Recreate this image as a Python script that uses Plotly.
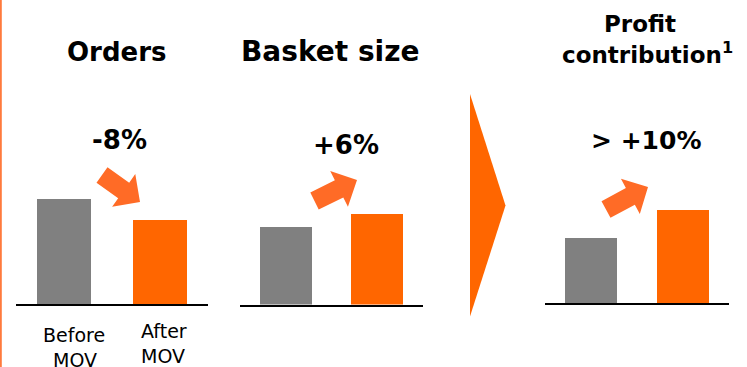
import math
import plotly.graph_objects as go
from plotly.subplots import make_subplots

# ---------------- data ----------------
categories = ["Before MOV", "After MOV"]
orders = [105, 84]
basket_size = [78, 91]
profit_contribution = [65, 93]
changes = ["-8%", "+6%", "> +10%"]
panel_titles = ["Orders", "Basket size", "Profit", "contribution<sup>1</sup>"]

W, H = 747, 367
GRAY = "#808080"
ORANGE = "#FF6600"
ARROW = "#FF6B26"
FONT = "DejaVu Sans"


def px(x):
    return x / W


def py(y):
    return 1 - y / H


fig = make_subplots(rows=1, cols=3)

panels = [
    (orders, (16, 208), 304.0),
    (basket_size, (240, 423), 304.5),
    (profit_contribution, (545, 729), 303.0),
]
YMAX = 120
for i, (vals, (x0, x1), base) in enumerate(panels, start=1):
    fig.add_trace(
        go.Bar(
            x=categories,
            y=vals,
            width=0.565,
            marker=dict(color=[GRAY, ORANGE], line=dict(width=0)),
            hoverinfo="skip",
            showlegend=False,
        ),
        row=1,
        col=i,
    )
    xa = "xaxis" if i == 1 else f"xaxis{i}"
    ya = "yaxis" if i == 1 else f"yaxis{i}"
    fig.layout[xa].update(
        domain=[px(x0), px(x1)],
        range=[-0.5, 1.5],
        showline=True,
        linecolor="black",
        linewidth=2,
        showticklabels=False,
        ticks="",
        showgrid=False,
        zeroline=False,
        fixedrange=True,
    )
    fig.layout[ya].update(
        domain=[py(base), py(base - YMAX)],
        range=[0, YMAX],
        visible=False,
        showgrid=False,
        zeroline=False,
        fixedrange=True,
    )

shapes = []

# left orange rule
shapes.append(dict(type="line", xref="paper", yref="paper", x0=px(0.8), x1=px(0.8),
                   y0=0, y1=1, line=dict(color="#FF7A3D", width=2)))

# chevron
chev = [(470, 94), (505.5, 205.5), (470, 316.5)]
path = "M " + " L ".join(f"{px(x)},{py(y)}" for x, y in chev) + " Z"
shapes.append(dict(type="path", xref="paper", yref="paper", path=path,
                   fillcolor=ORANGE, line=dict(width=0)))


def arrow(tail, tip, sw=19, hw=40, hl=20):
    tx, ty = tail
    hx, hy = tip
    dx, dy = hx - tx, hy - ty
    L = math.hypot(dx, dy)
    ux, uy = dx / L, dy / L
    nx, ny = -uy, ux
    bx, by = hx - ux * hl, hy - uy * hl
    pts = [
        (tx + nx * sw / 2, ty + ny * sw / 2),
        (bx + nx * sw / 2, by + ny * sw / 2),
        (bx + nx * hw / 2, by + ny * hw / 2),
        (hx, hy),
        (bx - nx * hw / 2, by - ny * hw / 2),
        (bx - nx * sw / 2, by - ny * sw / 2),
        (tx - nx * sw / 2, ty - ny * sw / 2),
    ]
    return "M " + " L ".join(f"{px(x)},{py(y)}" for x, y in pts) + " Z"


for tail, tip in [((102, 175), (140, 202)), ((314.5, 201), (357, 180)), ((606, 209.5), (648, 187))]:
    shapes.append(dict(type="path", xref="paper", yref="paper", path=arrow(tail, tip),
                       fillcolor=ARROW, line=dict(width=0)))

fig.update_layout(shapes=shapes)

annotations = []


def txt(text, x, y, size, bold=False):
    annotations.append(dict(
        text=f"<b>{text}</b>" if bold else text,
        x=px(x), y=py(y), xref="paper", yref="paper",
        xanchor="center", yanchor="middle", showarrow=False,
        font=dict(family=FONT, size=size, color="black"),
    ))


# titles
txt(panel_titles[0], 116.5, 52, 26, True)
txt(panel_titles[1], 330, 52, 28, True)
txt(panel_titles[2], 640, 24, 23, True)
txt(panel_titles[3], 647, 53, 23, True)

# change labels
txt(changes[0], 119.5, 140, 26, True)
txt(changes[1], 346, 145, 26, True)
txt(changes[2], 646, 140, 25, True)

# category labels (left panel only)
before_lines = categories[0].split(" ")
after_lines = categories[1].split(" ")
txt(before_lines[0], 74, 335, 19)
txt(before_lines[1], 75, 360, 19)
txt(after_lines[0], 164, 331, 19)
txt(after_lines[1], 163, 356, 19)

fig.update_layout(
    annotations=annotations,
    width=W,
    height=H,
    margin=dict(l=0, r=0, t=0, b=0),
    paper_bgcolor="white",
    plot_bgcolor="white",
    bargap=0,
    hovermode=False,
    font=dict(family=FONT),
)

fig.write_html(
    "out.html",
    config={"displayModeBar": False, "responsive": False},
    post_script="document.body.style.margin='0';document.body.style.overflow='hidden';",
)
